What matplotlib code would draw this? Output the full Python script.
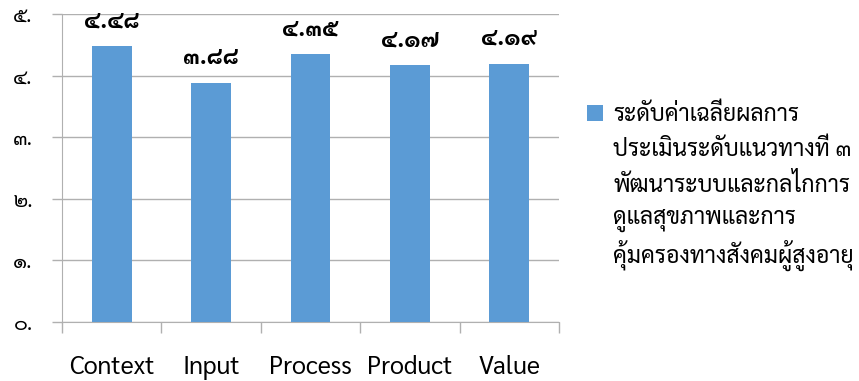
import matplotlib
matplotlib.use("Agg")
import matplotlib.pyplot as plt

plt.rcParams['font.family'] = ['Sarabun', 'DejaVu Sans']

categories = ['Context', 'Input', 'Process', 'Product', 'Value']
values = [4.48, 3.88, 4.35, 4.17, 4.19]
ytick_labels = ['๐.', '๑.', '๒.', '๓.', '๔.', '๕.']
series_lines = ['ระดับค่าเฉลี่ยผลการ',
                'ประเมินระดับแนวทางที่ ๓',
                'พัฒนาระบบและกลไกการ',
                'ดูแลสุขภาพและการ',
                'คุ้มครองทางสังคมผู้สูงอายุ']

thai_digits = str.maketrans('0123456789', '๐๑๒๓๔๕๖๗๘๙')

def thai(v):
    return ('%.2f' % v).translate(thai_digits)

bar_color = '#5B9BD5'
grid_color = '#B0B0B0'

fig = plt.figure(figsize=(8.59, 3.81), dpi=100)
ax = fig.add_axes([0.0722, 0.1549, 0.5786, 0.8084])

x = list(range(len(categories)))
ax.bar(x, values, width=0.4, color=bar_color, zorder=3, label=series_lines[0])

for xi, v in zip(x, values):
    ax.annotate(thai(v), (xi, v), xytext=(0, 10), textcoords='offset points',
                ha='center', va='bottom', fontsize=17, fontweight='bold', color='black')

ax.set_xlim(-0.5, len(categories) - 0.5)
ax.set_ylim(0, 5)
ax.set_yticks(range(6))
ax.set_yticklabels(ytick_labels, fontsize=15)
ax.yaxis.grid(True, color=grid_color, linewidth=1, zorder=0)

# category labels centred, tick marks on the boundaries
ax.set_xticks(x)
ax.set_xticklabels(categories, fontsize=18)
ax.tick_params(axis='x', which='major', length=0, pad=24)
ax.set_xticks([i - 0.5 for i in range(len(categories) + 1)], minor=True)
ax.tick_params(axis='x', which='minor', length=8, color=grid_color, width=1)
ax.tick_params(axis='y', length=7, color=grid_color, width=1, pad=14)

for s in ['top', 'right']:
    ax.spines[s].set_visible(False)
ax.spines['left'].set_color(grid_color)
ax.spines['bottom'].set_color(grid_color)

leg = fig.legend(loc='upper left', bbox_to_anchor=(0.659, 0.782), frameon=False,
                 fontsize=16.5, handlelength=0.7, handleheight=0.7, handletextpad=0.45)

# the rest of the (wrapped) series name, evenly spaced under the legend entry
fig.canvas.draw()
first = leg.get_texts()[0]
bb = first.get_window_extent()
x0 = bb.x0
yc = (bb.y0 + bb.y1) / 2
for i, line in enumerate(series_lines[1:], start=1):
    fig.text(x0 / fig.bbox.width, (yc - i * 35) / fig.bbox.height, line,
             fontsize=16.5, ha='left', va='center')

fig.savefig('out.png', dpi=100)
